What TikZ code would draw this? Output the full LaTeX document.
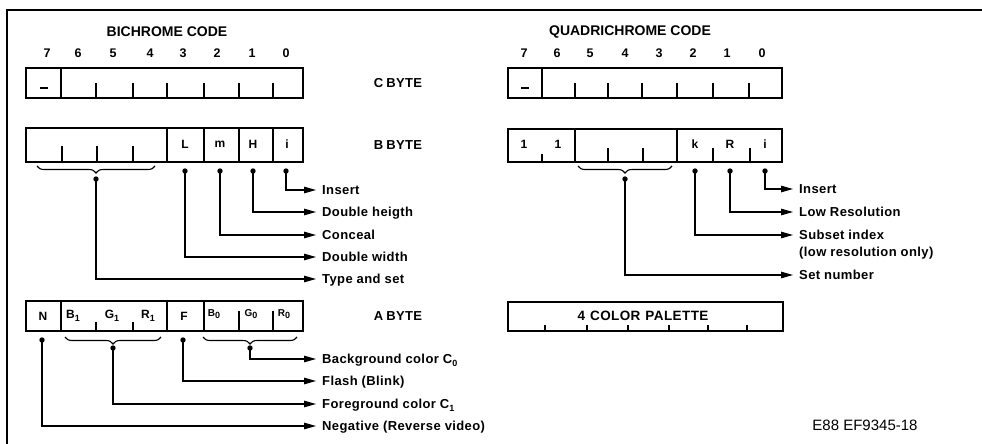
\documentclass[tikz,border=0pt]{standalone}
\usepackage{fontspec}
\setmainfont{Liberation Sans}
\newfontfamily\lf{Liberation Sans}[LetterSpace=3]
\newfontfamily\tf{Liberation Sans}
\usetikzlibrary{arrows.meta,decorations.pathreplacing}
\newcommand{\sbs}[1]{\raisebox{-2.5pt}{\fontsize{9}{10}\selectfont #1}}
\begin{document}
\begin{tikzpicture}[x=1pt,y=-1pt,
  frame/.style={line width=1.4pt},
  box/.style={line width=1.4pt},
  tick/.style={line width=1.1pt},
  conn/.style={line width=1.1pt,-{Triangle[length=12pt,width=6.5pt]}},
  brc/.style={line width=1.1pt,decorate,decoration={brace,mirror,amplitude=7pt}},
  title/.style={font=\tf\bfseries\fontsize{14}{16}\selectfont},
  bitn/.style={font=\tf\bfseries\fontsize{12.5}{14}\selectfont},
  bytel/.style={font=\lf\bfseries\fontsize{13}{15}\selectfont},
  cellt/.style={font=\tf\bfseries\fontsize{12}{14}\selectfont},
  lab/.style={anchor=west,inner xsep=6pt,inner ysep=0pt,text height=9pt,text depth=0pt,font=\lf\bfseries\fontsize{13}{15}\selectfont},
  ]
\useasboundingbox (0,0) rectangle (982,444);
% frame
\draw[frame] (7,444) -- (7,10) -- (982,10);

% titles
\node[title] (tB) at (167,32) {BICHROME CODE};
\node[title] (tQ) at (630,32) {QUADRICHROME CODE};

% bit numbers
\foreach \x/\n in {47/7,78/6,113/5,150/4,183/3,217/2,252/1,286/0}
  \node[bitn] (bn\n) at (\x,53) {\n};
\foreach \x/\n in {524/7,557/6,590/5,625/4,659/3,693/2,727/1,762/0}
  \node[bitn] (qn\n) at (\x,53) {\n};

% byte labels
\node[bytel] (lC) at (398,83) {C\hspace{3pt}BYTE};
\node[bytel] (lB) at (398,145) {B\hspace{3pt}BYTE};
\node[bytel] (lA) at (398,316) {A\hspace{3pt}BYTE};

% ---------- Bichrome C byte
\draw[box] (26,68) rectangle (303,98);
\draw[box] (61,68) -- (61,98);
\foreach \x in {96,133,167,204,239,273} \draw[tick] (\x,98) -- (\x,83);
\node (cdash) at (44,88) {\rule{8pt}{1.8pt}};

% ---------- Bichrome B byte
\draw[box] (26,128) rectangle (303,162);
\foreach \x in {167,204,239,273} \draw[box] (\x,128) -- (\x,162);
\foreach \x in {62,97,133} \draw[tick] (\x,162) -- (\x,146);
\node[cellt] (cL) at (185,144) {L};
\node[cellt] (cm) at (220,144) {m};
\node[cellt] (cH) at (253,144) {H};
\node[cellt] (ci) at (287,144) {i};

% ---------- Bichrome A byte
\draw[box] (26,301) rectangle (303,331);
\foreach \x in {61,167,204} \draw[box] (\x,301) -- (\x,331);
\foreach \x in {96,133} \draw[tick] (\x,331) -- (\x,322);
\foreach \x in {239,273} \draw[tick] (\x,331) -- (\x,311);
\node[cellt] (cN) at (43,316) {N};
\node[cellt] (cB1) at (73,316) {B\sbs{1}};
\node[cellt] (cG1) at (112,316) {G\sbs{1}};
\node[cellt] (cR1) at (148,316) {R\sbs{1}};
\node[cellt] (cF) at (184,316) {F};
\node[cellt] (cB0) at (214,314) {\fontsize{10}{11}\selectfont B\sbs{0}};
\node[cellt] (cG0) at (251,314) {\fontsize{10}{11}\selectfont G\sbs{0}};
\node[cellt] (cR0) at (284,314) {\fontsize{10}{11}\selectfont R\sbs{0}};

% ---------- Bichrome B byte connectors
\draw[brc] (37,166) -- (155,166);
\coordinate (dTS) at (96,179);
\coordinate (dL) at (185,171);
\coordinate (dm) at (220,171);
\coordinate (dH) at (253,171);
\coordinate (di) at (286,171);
\node[lab] (bIns) at (316,190) {Insert};
\node[lab] (bDH) at (316,212) {Double heigth};
\node[lab] (bCon) at (316,235) {Conceal};
\node[lab] (bDW) at (316,257) {Double width};
\node[lab] (bTS) at (316,279) {Type and set};
\draw[conn] (di) |- (bIns.west);
\draw[conn] (dH) |- (bDH.west);
\draw[conn] (dm) |- (bCon.west);
\draw[conn] (dL) |- (bDW.west);
\draw[conn] (dTS) |- (bTS.west);
\foreach \d in {dTS,dL,dm,dH,di} \fill (\d) circle (2.7pt);

% ---------- Bichrome A byte connectors
\draw[brc] (65,337) -- (161,337);
\draw[brc] (203,337) -- (297,337);
\coordinate (dN) at (42,340);
\coordinate (dF) at (183,340);
\coordinate (dC1) at (113,348);
\coordinate (dC0) at (250,348);
\node[lab] (aBg) at (316,359) {Background color C\sbs{0}};
\node[lab] (aFl) at (316,381) {Flash (Blink)};
\node[lab] (aFg) at (316,404) {Foreground color C\sbs{1}};
\node[lab] (aNeg) at (316,426) {Negative (Reverse video)};
\draw[conn] (dC0) |- (aBg.west);
\draw[conn] (dF) |- (aFl.west);
\draw[conn] (dC1) |- (aFg.west);
\draw[conn] (dN) |- (aNeg.west);
\foreach \d in {dN,dF,dC1,dC0} \fill (\d) circle (2.7pt);

% ---------- Quadrichrome C byte
\draw[box] (508,68) rectangle (782,98);
\draw[box] (542,68) -- (542,98);
\foreach \x in {575,608,642,677,713,749} \draw[tick] (\x,98) -- (\x,83);
\node (qdash) at (525,88) {\rule{8pt}{1.8pt}};

% ---------- Quadrichrome B byte
\draw[box] (508,129) rectangle (782,162);
\foreach \x in {575,677} \draw[box] (\x,129) -- (\x,162);
\draw[tick] (542,162) -- (542,154);
\foreach \x in {608,643,713,750} \draw[tick] (\x,162) -- (\x,148);
\node[cellt] (q1a) at (524,144) {1};
\node[cellt] (q1b) at (558,144) {1};
\node[cellt] (qk) at (695,144) {k};
\node[cellt] (qR) at (730,144) {R};
\node[cellt] (qi) at (765,144) {i};

% ---------- Quadrichrome A byte
\draw[box] (508,302) rectangle (783,331);
\foreach \x in {545,587,628,669,708,747} \draw[tick] (\x,331) -- (\x,325);
\node[font=\lf\bfseries\fontsize{13.5}{15}\selectfont] (qpal) at (643,316) {4\hspace{5pt}COLOR\hspace{5pt}PALETTE};

% ---------- Quadrichrome connectors
\draw[brc] (578,166) -- (672,166);
\coordinate (dSN) at (625,179);
\coordinate (dk) at (695,171);
\coordinate (dR) at (730,171);
\coordinate (dqi) at (765,171);
\node[lab] (qIns) at (793,189) {Insert};
\node[lab] (qLow) at (793,212) {Low Resolution};
\node[lab] (qSub) at (793,235) {Subset index};
\node[lab] (qSub2) at (793,252) {(low resolution only)};
\node[lab] (qSet) at (793,275) {Set number};
\draw[conn] (dqi) |- (qIns.west);
\draw[conn] (dR) |- (qLow.west);
\draw[conn] (dk) |- (qSub.west);
\draw[conn] (dSN) |- (qSet.west);
\foreach \d in {dSN,dk,dR,dqi} \fill (\d) circle (2.7pt);

% figure code
\node[font=\tf\fontsize{15}{17}\selectfont] (fig) at (865,425) {E88 EF9345-18};
\end{tikzpicture}
\end{document}
